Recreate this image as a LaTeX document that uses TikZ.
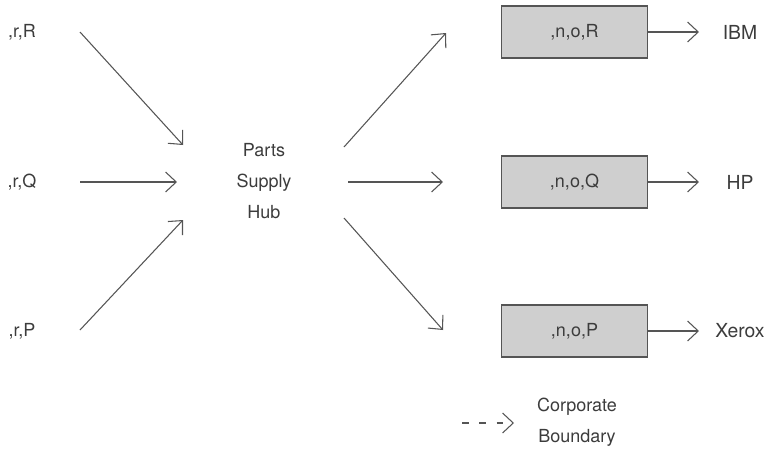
\documentclass[tikz,border=0pt]{standalone}
\usepackage{fontspec}
\setmainfont{TeX Gyre Heros}
\usetikzlibrary{arrows.meta, positioning}
\definecolor{inkgray}{HTML}{555555}
\definecolor{textgray}{HTML}{3C3C3C}
\definecolor{boxgray}{HTML}{CFCFCF}

\tikzset{
  flow/.style={draw=inkgray, line width=0.8pt, -{Straight Barb[length=8pt, width=15pt]}},
  plant/.style={draw=inkgray, fill=boxgray, line width=0.8pt, minimum width=110pt, minimum height=39pt},
  lbl/.style={text=textgray, font=\fontsize{13.5}{23}\selectfont, align=center, inner sep=0pt},
  custlbl/.style={lbl, font=\fontsize{14.5}{23}\selectfont}
}

\begin{document}
\begin{tikzpicture}[x=0.75pt, y=-0.75pt]
  \useasboundingbox (0,0) rectangle (769,451);

  % Hub in the middle
  \node[lbl] (hub) at (264,181) {Parts\\Supply\\Hub};

  % Sources on the left, plants and customers on the right
  \foreach \part/\y/\cust [count=\i] in {R/32/IBM, Q/182/HP, P/331/Xerox} {
    \node[lbl] (src\i) at (22,\y) {,r,\part};
    \node[plant, lbl] (plant\i) at (574.5,\y) {,n,o,\part};
    \node[custlbl] (cust\i) at (740,\y) {\cust};
    \coordinate (tip\i) at (699,\y);
    \draw[flow] (plant\i.east) -- (tip\i);
  }

  % Ends of the arrows into and out of the hub
  \coordinate (in1) at (80,32);   \coordinate (hubin1) at (183,145);
  \coordinate (in2) at (80,182);  \coordinate (hubin2) at (177,182);
  \coordinate (in3) at (80,330);  \coordinate (hubin3) at (183,220);
  \coordinate (hubout1) at (344,147); \coordinate (out1) at (446,33);
  \coordinate (hubout2) at (348,182); \coordinate (out2) at (443,182);
  \coordinate (hubout3) at (344,218); \coordinate (out3) at (443,330);
  \foreach \i in {1,2,3} {
    \draw[flow] (in\i) -- (hubin\i);
    \draw[flow] (hubout\i) -- (out\i);
  }

  % Legend
  \node[lbl] (legend) at (577,422) {Corporate\\Boundary};
  \coordinate (dashA) at (462,423);
  \coordinate (dashB) at (514,423);
  \draw[flow, dash pattern=on 5pt off 8pt] (dashA) -- (dashB);
\end{tikzpicture}
\end{document}
